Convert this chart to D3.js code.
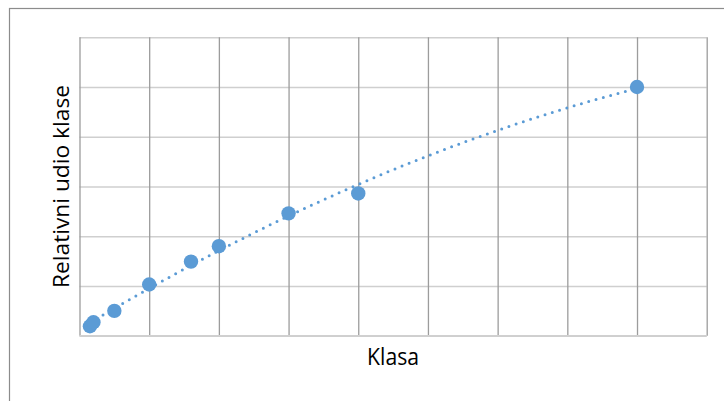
<!DOCTYPE html>
<html>
<head>
<meta charset="utf-8">
<script src="https://cdn.jsdelivr.net/npm/d3@7"></script>
<style>
  html, body { margin: 0; padding: 0; background: #fff; }
  svg { display: block; }
</style>
</head>
<body>
<svg id="chart" width="724" height="401"></svg>
<script>
// Data
const xValues = [0.15, 0.2, 0.5, 1, 1.6, 2, 3, 4, 8];
const yValues = [0.19, 0.27, 0.5, 1.03, 1.49, 1.8, 2.46, 2.86, 5.0];
const xTicks = [0, 1, 2, 3, 4, 5, 6, 7, 8, 9];
const yTicks = [0, 1, 2, 3, 4, 5, 6];
const xTitle = "Klasa";
const yTitle = "Relativni udio klase";

const svg = d3.select("#chart");
const W = 724, H = 401;
const m = { left: 79.5, right: W - 706.7, top: 37.3, bottom: H - 335.7 };

const x = d3.scaleLinear().domain([0, 9]).range([m.left, W - m.right]);
const y = d3.scaleLinear().domain([0, 6]).range([H - m.bottom, m.top]);

// outer chart border
svg.append("rect")
  .attr("x", 9.5).attr("y", 8.5)
  .attr("width", 800).attr("height", 500)
  .attr("fill", "none").attr("stroke", "#8c8c8c").attr("stroke-width", 1.2);

// horizontal gridlines
svg.append("g")
  .attr("transform", `translate(${m.left},0)`)
  .call(d3.axisLeft(y).tickValues(yTicks).tickSize(-(W - m.left - m.right)).tickFormat(""))
  .call(g => g.select(".domain").remove())
  .call(g => g.selectAll(".tick line").attr("stroke", "#cfcfcf").attr("stroke-width", 1.5));

// vertical gridlines
svg.append("g")
  .attr("transform", `translate(0,${H - m.bottom})`)
  .call(d3.axisBottom(x).tickValues(xTicks).tickSize(-(H - m.top - m.bottom)).tickFormat(""))
  .call(g => g.select(".domain").remove())
  .call(g => g.selectAll(".tick line").attr("stroke", "#9c9c9c").attr("stroke-width", 1.3));

// bottom axis line
svg.append("line")
  .attr("x1", m.left).attr("x2", W - m.right)
  .attr("y1", y(0)).attr("y2", y(0))
  .attr("stroke", "#d0d0d0").attr("stroke-width", 1.5);

// quadratic least-squares trendline
function polyfit2(xs, ys) {
  let S = [0,0,0,0,0], T = [0,0,0];
  xs.forEach((xi, i) => {
    for (let k = 0; k < 5; k++) S[k] += Math.pow(xi, k);
    for (let k = 0; k < 3; k++) T[k] += Math.pow(xi, k) * ys[i];
  });
  const A = [[S[0],S[1],S[2],T[0]],[S[1],S[2],S[3],T[1]],[S[2],S[3],S[4],T[2]]];
  for (let i = 0; i < 3; i++) {
    for (let j = i + 1; j < 3; j++) {
      const f = A[j][i] / A[i][i];
      for (let k = i; k < 4; k++) A[j][k] -= f * A[i][k];
    }
  }
  const c = [0,0,0];
  for (let i = 2; i >= 0; i--) {
    let s = A[i][3];
    for (let k = i + 1; k < 3; k++) s -= A[i][k] * c[k];
    c[i] = s / A[i][i];
  }
  return c;
}
const coef = polyfit2(xValues, yValues);
const xMin = d3.min(xValues), xMax = d3.max(xValues);
const trend = d3.range(0, 101).map(i => {
  const xv = xMin + (xMax - xMin) * i / 100;
  return [xv, coef[0] + coef[1] * xv + coef[2] * xv * xv];
});
svg.append("path")
  .datum(trend)
  .attr("d", d3.line().x(d => x(d[0])).y(d => y(d[1])))
  .attr("fill", "none")
  .attr("stroke", "#5b9bd5")
  .attr("stroke-width", 3)
  .attr("stroke-linecap", "round")
  .attr("stroke-dasharray", "0 7.6");

// points
svg.append("g").selectAll("circle")
  .data(xValues.map((v, i) => [v, yValues[i]]))
  .join("circle")
  .attr("cx", d => x(d[0]))
  .attr("cy", d => y(d[1]))
  .attr("r", 7.2)
  .attr("fill", "#5b9bd5");

// axis titles
const font = "'Liberation Sans Narrow', 'Open Sans', 'Noto Sans', sans-serif";
svg.append("text")
  .attr("x", (m.left + W - m.right) / 2)
  .attr("y", 365)
  .attr("text-anchor", "middle")
  .attr("font-family", font)
  .attr("font-size", 23)
  .attr("textLength", 52)
  .attr("lengthAdjust", "spacingAndGlyphs")
  .attr("fill", "#000")
  .text(xTitle);

svg.append("text")
  .attr("transform", `translate(69,${(m.top + H - m.bottom) / 2}) rotate(-90)`)
  .attr("text-anchor", "middle")
  .attr("font-family", font)
  .attr("font-size", 22)
  .attr("textLength", 203)
  .attr("lengthAdjust", "spacingAndGlyphs")
  .attr("fill", "#000")
  .text(yTitle);
</script>
</body>
</html>
